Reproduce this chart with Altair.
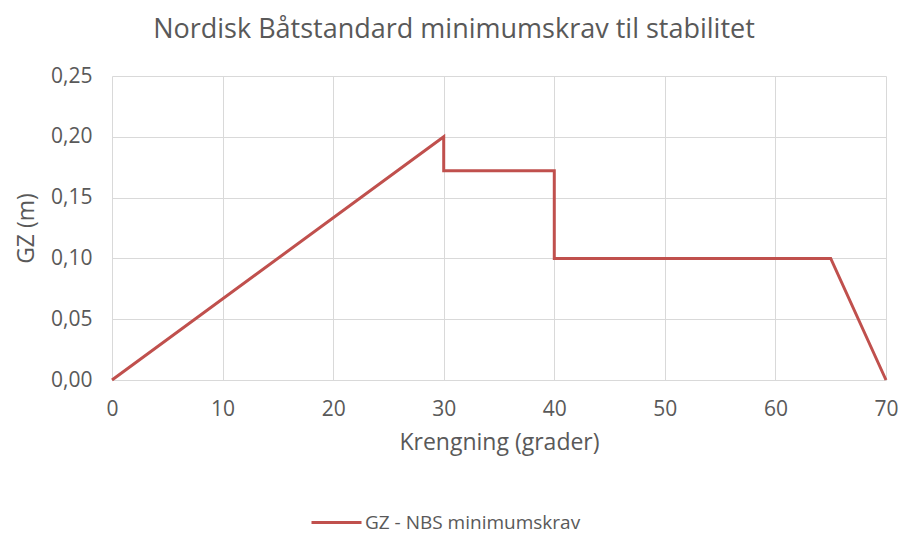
import altair as alt
import pandas as pd

heel = [0, 30, 30, 40, 40, 65, 70]
gz = [0.0, 0.20, 0.172, 0.172, 0.10, 0.10, 0.0]
series = "GZ -  NBS minimumskrav"

df = pd.DataFrame({"x": heel, "y": gz, "s": series, "o": list(range(len(heel)))})

FONT = "Open Sans"
GREY = "#595959"

chart = alt.Chart(df).mark_line(strokeWidth=3, strokeJoin="miter").encode(
    x=alt.X("x:Q", scale=alt.Scale(domain=[0, 70], nice=False),
            axis=alt.Axis(values=list(range(0, 71, 10)), title="Krengning (grader)",
                          labelFontSize=21, titleFontSize=23, labelColor=GREY, titleColor=GREY,
                          titleFontWeight="normal", labelFont=FONT, titleFont=FONT,
                          ticks=False, labelPadding=18, titlePadding=12, labelFlush=False,
                          labelOverlap=False, domainColor="#d9d9d9", gridColor="#d9d9d9")),
    y=alt.Y("y:Q", scale=alt.Scale(domain=[0, 0.25], nice=False),
            axis=alt.Axis(values=[0, 0.05, 0.10, 0.15, 0.20, 0.25], format=".2f",
                          labelExpr="replace(format(datum.value, '.2f'), '.', ',')",
                          title="GZ (m)", labelFontSize=21, titleFontSize=23,
                          labelColor=GREY, titleColor=GREY, titleFontWeight="normal",
                          labelFont=FONT, titleFont=FONT, ticks=False, domain=False,
                          labelFlush=False, labelPadding=20, titlePadding=12,
                          gridColor="#d9d9d9")),
    order="o:Q",
    color=alt.Color("s:N", scale=alt.Scale(range=["#C0504D"]),
                    legend=alt.Legend(title=None, orient="none", legendX=198, legendY=420,
                                      symbolType="stroke", symbolStrokeWidth=3, symbolSize=2500,
                                      labelFontSize=19, labelColor=GREY, labelFont=FONT,
                                      labelOffset=2, labelLimit=500)),
).properties(
    width=774, height=304,
    title=alt.TitleParams("Nordisk Båtstandard minimumskrav til stabilitet",
                          fontSize=27, color=GREY, font=FONT, fontWeight="normal",
                          anchor="middle", offset=21, dx=-45),
    padding={"left": 104, "top": 68, "right": 15, "bottom": 180},
    autosize="none",
).configure_view(stroke=None)

chart.save("out.html", embed_options={"renderer": "svg", "actions": False})
